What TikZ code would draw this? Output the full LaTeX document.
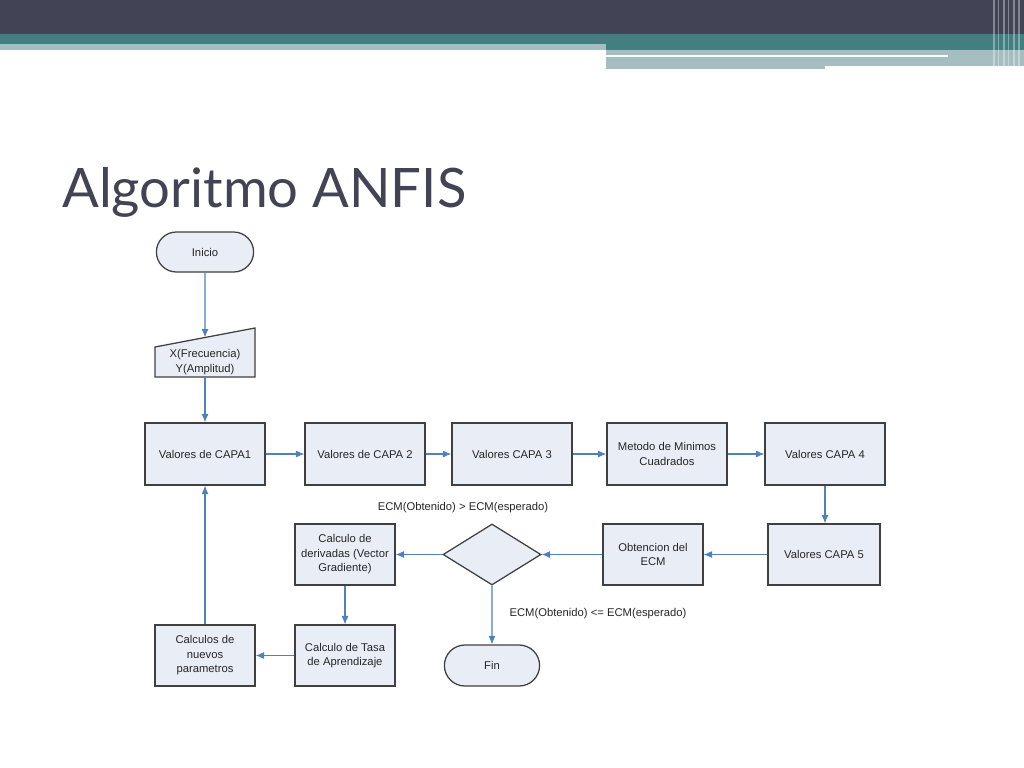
\documentclass[tikz,border=0pt]{standalone}
\usepackage{fontspec}
\setmainfont{Liberation Sans}
\newfontfamily\titlefont{Lato}
\usepackage{tikz}
\usetikzlibrary{arrows.meta}
\usetikzlibrary{shapes.geometric,shapes.misc}
\definecolor{banda}{RGB}{66,68,86}
\definecolor{verde}{RGB}{67,126,128}
\definecolor{claro}{RGB}{166,190,193}
\definecolor{relleno}{RGB}{233,237,246}
\definecolor{borde}{RGB}{64,64,64}
\definecolor{flecha}{RGB}{79,129,189}

\begin{document}
\begin{tikzpicture}[
x=0.025cm, y=-0.025cm,
MyBox/.style={draw=borde,fill=relleno,line width=0.9pt,minimum width=2.5cm,minimum height=1.525cm,align=center,inner sep=1pt},
MyEnd/.style={MyBox,rounded rectangle,minimum height=1cm},
MyDecision/.style={MyBox,diamond,minimum width=2.45cm,minimum height=1.525cm,inner sep=0pt},
Flow/.style={draw=flecha,line width=0.75pt,-{Latex[length=6pt,width=5pt]}},
every node/.style={font=\fontsize{8}{10.3}\selectfont,text=black!85}
]
\useasboundingbox (0,0) rectangle (1024,768);

% banner
\fill[banda] (0,0) rectangle (1024,34);
\fill[verde] (0,34) rectangle (1024,44);
\fill[verde] (606,44) rectangle (1024,50.5);
\fill[claro] (0,44) rectangle (606,50.5);
\fill[claro] (606,50.5) rectangle (1024,66);
\fill[claro] (606,66) rectangle (825,69);
\fill[white] (606,55.5) rectangle (948,57.5);
\foreach \xx/\ww in {993/1.5,998/1,1003/2,1008/1,1013/1.5,1018/2}
  \fill[white,opacity=0.35] (\xx,0) rectangle ({\xx+\ww},69);

\node[anchor=base west,font=\titlefont\fontsize{38.7}{40}\selectfont,text=banda,inner sep=0pt] (titulo) at (62,207) {Algoritmo ANFIS};

% nodes
\node[MyEnd] (ini) at (205,252) {Inicio};

\coordinate (inpA) at (155,377);
\coordinate (inpB) at (255,377);
\coordinate (inpC) at (255,328);
\coordinate (inpD) at (155,347);
\coordinate (inpTop) at (205,337.5);
\coordinate (inpBot) at (205,377);
\filldraw[draw=borde,fill=relleno,line width=0.9pt] (inpA)--(inpB)--(inpC)--(inpD)--cycle;
\node[align=center] (inp) at (205,362) {X(Frecuencia)\\Y(Amplitud)};

\node[MyBox,minimum width=3cm,minimum height=1.55cm] (c1) at (205,454) {Valores de CAPA1};
\node[MyBox,minimum width=3cm,minimum height=1.55cm] (c2) at (365,454) {Valores de CAPA 2};
\node[MyBox,minimum width=3cm,minimum height=1.55cm] (c3) at (512,454) {Valores CAPA 3};
\node[MyBox,minimum width=3cm,minimum height=1.55cm] (mm) at (667,454) {Metodo de Minimos\\Cuadrados};
\node[MyBox,minimum width=3cm,minimum height=1.55cm] (c4) at (825,454) {Valores CAPA 4};

\node[MyBox,minimum width=2.8cm] (c5) at (824,554.5) {Valores CAPA 5};
\node[MyBox] (ecm) at (653,554.5) {Obtencion del\\ECM};
\node[MyDecision] (dec) at (492,554.5) {};
\node[MyBox] (der) at (345,554.5) {Calculo de\\derivadas (Vector\\Gradiente)};

\node[MyBox] (nue) at (205,655.5) {Calculos de\\nuevos\\parametros};
\node[MyBox] (tas) at (345,655.5) {Calculo de Tasa\\de Aprendizaje};
\node[MyEnd,minimum width=2.45cm,minimum height=1.025cm] (fin) at (492,665.5) {Fin};

\node (mayor) at (463,508) {ECM(Obtenido) > ECM(esperado)};
\node (menor) at (598,614) {ECM(Obtenido) <= ECM(esperado)};

% connectors
\draw[Flow] (ini)--(inpTop);
\draw[Flow] (inpBot)--(c1);
\draw[Flow] (c1)--(c2);
\draw[Flow] (c2)--(c3);
\draw[Flow] (c3)--(mm);
\draw[Flow] (mm)--(c4);
\draw[Flow] (c4.south)--(c4.south |- c5.north);
\draw[Flow] (c5)--(ecm);
\draw[Flow] (ecm)--(dec);
\draw[Flow] (dec)--(der);
\draw[Flow] (dec)--(fin);
\draw[Flow] (der)--(tas);
\draw[Flow] (tas)--(nue);
\draw[Flow] (nue)--(c1);

\end{tikzpicture}
\end{document}
